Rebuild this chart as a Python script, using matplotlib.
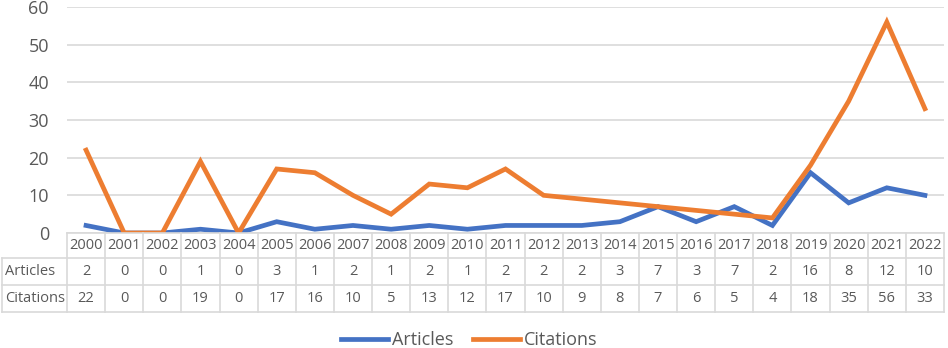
import matplotlib.pyplot as plt
from matplotlib.lines import Line2D
from matplotlib.transforms import blended_transform_factory

years = [str(y) for y in range(2000, 2023)]
articles = [2, 0, 0, 1, 0, 3, 1, 2, 1, 2, 1, 2, 2, 2, 3, 7, 3, 7, 2, 16, 8, 12, 10]
citations = [22, 0, 0, 19, 0, 17, 16, 10, 5, 13, 12, 17, 10, 9, 8, 7, 6, 5, 4, 18, 35, 56, 33]
yticks = [0, 10, 20, 30, 40, 50, 60]

blue = '#4472C4'
orange = '#ED7D31'
grid = '#D9D9D9'
txt = '#595959'

plt.rcParams['font.family'] = ['Open Sans', 'DejaVu Sans']

W, H = 948, 348
fig = plt.figure(figsize=(W / 100, H / 100), dpi=100)
left, right, top, bottom = 67, 944, 7, 233
ax = fig.add_axes([left / W, 1 - bottom / H, (right - left) / W, (bottom - top) / H])

x = list(range(len(years)))
ax.plot(x, articles, color=blue, lw=3.4, solid_joinstyle='miter', label='Articles', zorder=3)
ax.plot(x, citations, color=orange, lw=3.4, solid_joinstyle='miter', label='Citations', zorder=3)

ax.set_xlim(-0.5, len(years) - 0.5)
ax.set_ylim(0, 60)
ax.set_yticks(yticks)
ax.set_xticks([])
ax.tick_params(axis='y', length=0, labelsize=13, labelcolor=txt, pad=13)
ax.grid(axis='y', color=grid, lw=1.2)
for s in ax.spines.values():
    s.set_visible(False)
ax.set_axisbelow(True)

# data table under the plot
tr = blended_transform_factory(ax.transData, fig.transFigure)
fy = lambda py: 1 - py / H
rows = [233, 258, 285, 312]
col_w = (right - left) / len(years)
lab_left = -0.5 - (left - 2) / col_w

def hline(x0, x1, py):
    fig.add_artist(Line2D([x0, x1], [fy(py), fy(py)], transform=tr, color=grid, lw=1.2, clip_on=False))

def vline(xx, py0, py1):
    fig.add_artist(Line2D([xx, xx], [fy(py0), fy(py1)], transform=tr, color=grid, lw=1.2, clip_on=False))

hline(-0.5, len(years) - 0.5, rows[0])
for py in rows[1:]:
    hline(lab_left, len(years) - 0.5, py)
for i in range(len(years) + 1):
    vline(i - 0.5, rows[0], rows[3])
vline(lab_left, rows[1], rows[3])

for i, yr in enumerate(years):
    fig.text(i, fy((rows[0] + rows[1]) / 2), yr, transform=tr, ha='center', va='center',
             fontsize=10.5, color=txt)
    fig.text(i, fy((rows[1] + rows[2]) / 2), str(articles[i]), transform=tr, ha='center',
             va='center', fontsize=10.5, color=txt)
    fig.text(i, fy((rows[2] + rows[3]) / 2), str(citations[i]), transform=tr, ha='center',
             va='center', fontsize=10.5, color=txt)
fig.text(5 / W, fy((rows[1] + rows[2]) / 2), 'Articles', ha='left', va='center', fontsize=10.5, color=txt)
fig.text(5 / W, fy((rows[2] + rows[3]) / 2), 'Citations', ha='left', va='center', fontsize=10.5, color=txt)

leg = fig.legend(loc='center', bbox_to_anchor=(469 / W, fy(340)), ncol=2, frameon=False,
                 fontsize=13, handlelength=2.6, handletextpad=0.2, columnspacing=1.1)
for t in leg.get_texts():
    t.set_color(txt)

fig.savefig('out.png', dpi=100)
